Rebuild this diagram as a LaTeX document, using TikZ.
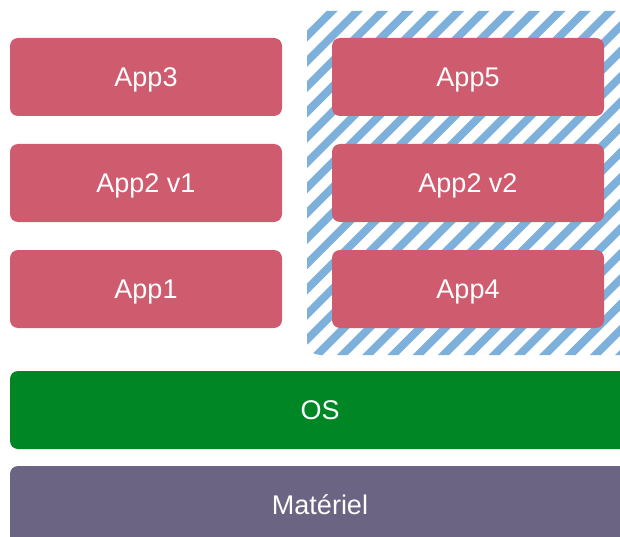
\documentclass[tikz,border=0pt]{standalone}
\usepackage{fontspec}
\setmainfont{Liberation Sans}

\definecolor{appred}{HTML}{CF5C6E}
\definecolor{osgreen}{HTML}{018626}
\definecolor{hwpurple}{HTML}{6B6483}
\definecolor{hatchblue}{HTML}{7EB0DC}

\tikzset{
  layer/.style={rectangle, rounded corners=8pt, text=white, font=\fontsize{27}{32}\selectfont,
    inner sep=0pt, text height=19.3pt, text depth=0pt},
  appbox/.style={layer, fill=appred, minimum width=272pt, minimum height=78pt},
  osbox/.style={layer, fill=osgreen, minimum width=620pt, minimum height=78pt},
  hwbox/.style={layer, fill=hwpurple, minimum width=620pt, minimum height=78pt},
  hatch/.style={draw=hatchblue, line width=7.8pt},
}

\begin{document}
\begin{tikzpicture}[x=1pt, y=-1pt]
  \useasboundingbox (0,0) rectangle (620,537);
  \clip (0,0) rectangle (620,537);

  % zone hachuree (conteneur)
  \begin{scope}
    \clip[rounded corners=13pt] (307,11) rectangle (660,355);
    \foreach \i in {-15,...,14}
      \draw[hatch] (302+25.3*\i,370) -- (682+25.3*\i,-10);
  \end{scope}

  % applications
  \node[appbox] (app3) at (146,77) {App3};
  \node[appbox] (app2a) at (146,183) {App2 v1};
  \node[appbox] (app1) at (146,289) {App1};
  \node[appbox] (app5) at (468,77) {App5};
  \node[appbox] (app2b) at (468,183) {App2 v2};
  \node[appbox] (app4) at (468,289) {App4};

  % couches basses
  \node[osbox] (os) at (320,410) {OS};
  \node[hwbox] (hw) at (320,505) {Matériel};
\end{tikzpicture}
\end{document}
